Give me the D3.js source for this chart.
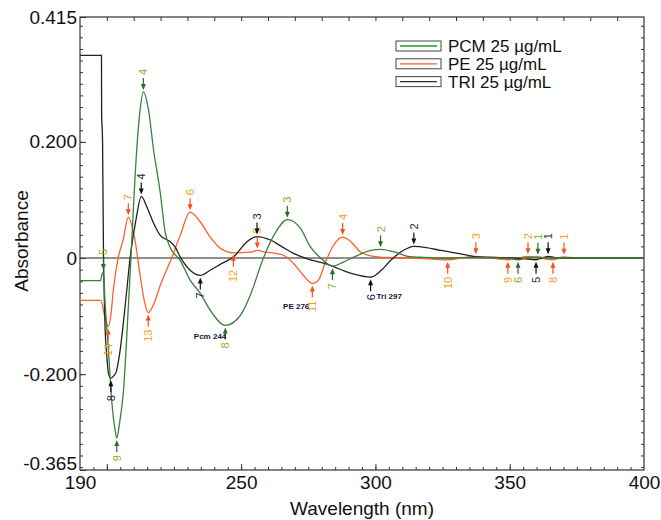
<!DOCTYPE html>
<html lang="en">
<head>
<meta charset="UTF-8">
<title>Derivative spectra</title>
<style>
  body { margin: 0; background: #fff; }
  svg { font-family: "Liberation Sans", Arial, sans-serif; }
</style>
</head>
<body>
<script src="https://d3js.org/d3.v7.min.js"></script>
<div id="chart"></div>
<script>
// ---- data ----
var pcmNm  = [190, 197.6, 198.1, 198.7, 199.3, 200.6, 201.8, 203.1, 203.7, 204.7, 206.2, 208.0, 209.3, 210.5, 212.1, 213.6, 215.5, 217.4, 219.9, 221.7, 223.6, 227.3, 231.0, 234.8, 238.5, 244.1, 249.7, 253.4, 258.3, 262.8, 267.2, 272.1, 275.8, 279.6, 284.0, 288.1, 292.6, 298.2, 301.9, 307.5, 312.0, 318, 325, 335, 345, 350, 353.1, 356, 360.5, 364, 370, 380, 400];
var pcmAbs = [-0.039, -0.039, -0.030, -0.024, -0.073, -0.159, -0.245, -0.297, -0.310, -0.285, -0.228, -0.084, 0.031, 0.140, 0.243, 0.286, 0.255, 0.186, 0.112, 0.045, 0.018, -0.004, -0.038, -0.061, -0.090, -0.116, -0.099, -0.064, 0.000, 0.044, 0.066, 0.051, 0.019, 0.000, -0.014, -0.007, 0.003, 0.013, 0.015, 0.010, 0.003, 0.001, 0.000, 0.001, 0.000, -0.001, -0.003, 0.000, 0.002, 0.000, 0, 0, 0];

var peNm  = [190, 197.7, 199.3, 200.5, 201.5, 202.4, 204.3, 206.0, 208.0, 210.5, 212.4, 213.9, 215.4, 217.2, 219.9, 224.2, 227.3, 231.0, 234.8, 238.5, 242.2, 247.1, 253.4, 256.0, 259.0, 262.8, 266.5, 270.2, 273.2, 276.5, 278.8, 281.4, 284.4, 287.8, 290.7, 294.5, 299.3, 305, 315, 326.9, 332, 337.4, 343, 349.3, 353, 356.8, 361, 366.1, 370.2, 374, 380, 400];
var peAbs = [-0.073, -0.073, -0.102, -0.118, -0.098, -0.056, 0.002, 0.030, 0.070, 0.030, -0.030, -0.073, -0.094, -0.082, -0.047, 0.001, 0.039, 0.079, 0.062, 0.036, 0.017, 0.009, 0.010, 0.013, 0.010, 0.008, 0.003, -0.013, -0.030, -0.044, -0.038, -0.007, 0.022, 0.036, 0.029, 0.010, 0.003, 0.001, 0.000, -0.003, 0.000, 0.003, 0.000, -0.003, 0.000, 0.003, 0.000, -0.003, 0.002, 0, 0, 0];

var triNm  = [190, 198.0, 198.05, 198.4, 198.7, 199.3, 200.0, 200.6, 201.5, 202.5, 203.5, 204.9, 207.4, 208.7, 211.0, 212.8, 214.9, 217.4, 219.9, 223.6, 225.4, 227.3, 231.0, 234.8, 238.5, 242.5, 247.2, 252.2, 255.9, 260.9, 265, 269.5, 275, 282.2, 290.7, 298.2, 302, 305.7, 310, 314.3, 319, 324.3, 330.6, 338, 345, 350, 355, 359.8, 364.3, 368, 375, 400];
var triAbs = [0.349, 0.349, 0.251, 0.200, 0.030, -0.113, -0.170, -0.199, -0.207, -0.203, -0.196, -0.160, -0.056, 0.002, 0.070, 0.106, 0.088, 0.060, 0.039, 0.028, 0.019, 0.002, -0.021, -0.030, -0.021, -0.010, 0.002, 0.028, 0.037, 0.031, 0.020, 0.008, -0.002, -0.011, -0.026, -0.033, -0.022, -0.004, 0.012, 0.020, 0.018, 0.013, 0.008, 0.002, 0.001, 0.000, -0.001, -0.003, 0.003, 0.000, 0, 0];

// peak picks: [wavelength, number, kind]
var pcmPeaks = [[360.5,"1","max"],[301.9,"2","max"],[267.2,"3","max"],[213.6,"4","max"],[198.7,"5","max"],
                [353.1,"6","min"],[284.0,"7","min"],[244.1,"8","min"],[203.7,"9","min"]];
var pePeaks  = [[370.2,"1","max"],[356.8,"2","max"],[337.4,"3","max"],[287.8,"4","max"],[256.0,"5","max"],[231.0,"6","max"],[208.0,"7","max"],
                [366.1,"8","min"],[349.3,"9","min"],[326.9,"10","min"],[276.5,"11","min"],[247.1,"12","min"],[215.4,"13","min"],[200.5,"14","min"]];
var triPeaks = [[364.3,"1","max"],[314.3,"2","max"],[255.9,"3","max"],[212.8,"4","max"],
                [359.8,"5","min"],[298.2,"6","min"],[234.8,"7","min"],[201.5,"8","min"]];

var seriesNames = ["PCM 25 \u00b5g/mL", "PE 25 \u00b5g/mL", "TRI 25 \u00b5g/mL"];
var xTicks = [190, 250, 300, 350, 400];
var yTicks = [0.415, 0.2, 0, -0.2, -0.365];

// ---- layout ----
var W = 661, H = 520;
var L = 80, R = 644, T = 17, B = 470;

var svg = d3.select("#chart").append("svg")
  .attr("width", W).attr("height", H);

var x = d3.scaleLinear().domain([190, 400]).range([L, R]);
var y = d3.scaleLinear().domain([-0.365, 0.415]).range([B, T]);

// zero line
svg.append("line")
  .attr("x1", L).attr("x2", R)
  .attr("y1", y(0)).attr("y2", y(0))
  .attr("stroke", "#6b6b6b").attr("stroke-width", 1.5);

// minor ticks
var minorX = d3.range(195, 400, 5);
var minorY = d3.range(-0.36, 0.415, 0.02);
svg.append("g").attr("transform", "translate(0," + B + ")")
  .call(d3.axisBottom(x).tickValues(minorX).tickSize(-3).tickFormat(""))
  .call(function(g){ g.select(".domain").remove(); });
svg.append("g").attr("transform", "translate(0," + B + ")")
  .call(d3.axisBottom(x).tickValues([200, 250, 300, 350]).tickSize(-6).tickFormat(""))
  .call(function(g){ g.select(".domain").remove(); });
svg.append("g").attr("transform", "translate(0," + T + ")")
  .call(d3.axisTop(x).tickValues(d3.range(200, 400, 10)).tickSize(-4).tickFormat(""))
  .call(function(g){ g.select(".domain").remove(); });
svg.append("g").attr("transform", "translate(" + L + ",0)")
  .call(d3.axisLeft(y).tickValues(minorY).tickSize(-3).tickFormat(""))
  .call(function(g){ g.select(".domain").remove(); });
svg.append("g").attr("transform", "translate(" + R + ",0)")
  .call(d3.axisRight(y).tickValues(minorY).tickSize(-3).tickFormat(""))
  .call(function(g){ g.select(".domain").remove(); });

// labelled axes
var xAxis = svg.append("g").attr("transform", "translate(0," + B + ")")
  .call(d3.axisBottom(x).tickValues(xTicks).tickSize(0).tickPadding(6));
xAxis.select(".domain").remove();
xAxis.selectAll("text").style("font-size", "19px").attr("fill", "#111")
  .style("font-family", "'Liberation Sans', Arial, sans-serif");

var yAxis = svg.append("g").attr("transform", "translate(" + L + ",0)")
  .call(d3.axisLeft(y).tickValues(yTicks).tickSize(-6).tickPadding(3)
    .tickFormat(function(d){ return d === 0 ? "0" : d.toFixed(3); }));
yAxis.select(".domain").remove();
yAxis.selectAll("text").style("font-size", "19px").attr("fill", "#111")
  .style("font-family", "'Liberation Sans', Arial, sans-serif");
// bottom label sits a little higher, like the original
yAxis.selectAll(".tick").filter(function(d){ return d === -0.365; })
  .select("text").attr("dy", "-0.05em");
svg.selectAll(".tick line").attr("stroke", "#333");

// frame
svg.append("rect")
  .attr("x", L).attr("y", T).attr("width", R - L).attr("height", B - T)
  .attr("fill", "none").attr("stroke", "#333").attr("stroke-width", 1.2);

// axis titles
svg.append("text")
  .attr("x", (L + R) / 2).attr("y", 515)
  .attr("text-anchor", "middle").style("font-size", "19px").attr("fill", "#111")
  .text("Wavelength (nm)");
svg.append("text")
  .attr("transform", "translate(28,241) rotate(-90)")
  .attr("text-anchor", "middle").style("font-size", "19px").attr("fill", "#111")
  .text("Absorbance");

// curves
var line = d3.line()
  .x(function(d){ return x(d[0]); })
  .y(function(d){ return y(d[1]); })
  .curve(d3.curveMonotoneX);

function pairs(nm, ab) { return nm.map(function(v, i){ return [v, ab[i]]; }); }

var plot = svg.append("g");
plot.append("path").datum(pairs(peNm, peAbs))
  .attr("d", line).attr("fill", "none").attr("stroke", "#ff5f2a").attr("stroke-width", 1.3);
plot.append("path").datum(pairs(triNm, triAbs))
  .attr("d", line).attr("fill", "none").attr("stroke", "#222").attr("stroke-width", 1.3);
plot.append("path").datum(pairs(pcmNm, pcmAbs))
  .attr("d", line).attr("fill", "none").attr("stroke", "#3a7f3a").attr("stroke-width", 1.3);

// peak annotations
function valueAt(nm, ab, lam) {
  var i = d3.bisectLeft(nm, lam);
  if (i <= 0) return ab[0];
  if (i >= nm.length) return ab[ab.length - 1];
  var t = (lam - nm[i - 1]) / (nm[i] - nm[i - 1]);
  return ab[i - 1] + t * (ab[i] - ab[i - 1]);
}

function annotate(nm, ab, peaks, arrowColor, textColor) {
  var g = svg.append("g");
  peaks.forEach(function(p) {
    var px = x(p[0]), py = y(valueAt(nm, ab, p[0]));
    var s = p[2] === "max" ? -1 : 1;
    var tip = py + s * 2, tail = py + s * 14;
    g.append("line")
      .attr("x1", px).attr("x2", px)
      .attr("y1", tail).attr("y2", tip + s * 4)
      .attr("stroke", arrowColor).attr("stroke-width", 1.2);
    g.append("path")
      .attr("d", "M" + px + "," + tip + "L" + (px - 2.5) + "," + (tip + s * 6) + "L" + (px + 2.5) + "," + (tip + s * 6) + "Z")
      .attr("fill", arrowColor);
    g.append("text")
      .attr("transform", "translate(" + (px + 4) + "," + (tail + s * 3) + ") rotate(-90)")
      .attr("text-anchor", s < 0 ? "start" : "end")
      .style("font-size", "11px")
      .attr("fill", textColor)
      .text(p[1]);
  });
}

annotate(peNm, peAbs, pePeaks, "#ff4d1a", "#f5a01e");
annotate(triNm, triAbs, triPeaks, "#111", "#1b1b45");
annotate(pcmNm, pcmAbs, pcmPeaks, "#2d6b2d", "#86b62a");

// named minima
function tag(nm, ab, lam, txt, dx, dy, anchor) {
  svg.append("text")
    .attr("x", x(lam) + dx).attr("y", y(valueAt(nm, ab, lam)) + dy)
    .attr("text-anchor", anchor)
    .style("font-size", "8px").style("font-weight", "bold")
    .attr("fill", "#15153a")
    .text(txt);
}
tag(pcmNm, pcmAbs, 244.1, "Pcm 244", 1, 14, "end");
tag(peNm, peAbs, 276.5, "PE 276", -3, 25, "end");
tag(triNm, triAbs, 298.2, "Tri 297", 6, 22, "start");

// legend
var legColors = ["#1f9a1f", "#ff5f2a", "#333"];
var legend = svg.append("g");
seriesNames.forEach(function(name, i) {
  var cy = 46 + i * 17.8;
  legend.append("rect")
    .attr("x", 396).attr("y", cy - 5).attr("width", 45).attr("height", 10)
    .attr("fill", "#fff").attr("stroke", "#444").attr("stroke-width", 1);
  legend.append("line")
    .attr("x1", 400).attr("x2", 437).attr("y1", cy).attr("y2", cy)
    .attr("stroke", legColors[i]).attr("stroke-width", 1.3);
  legend.append("text")
    .attr("x", 448).attr("y", cy + 6)
    .style("font-size", "17px").attr("fill", "#111")
    .text(name);
});
</script>
</body>
</html>
